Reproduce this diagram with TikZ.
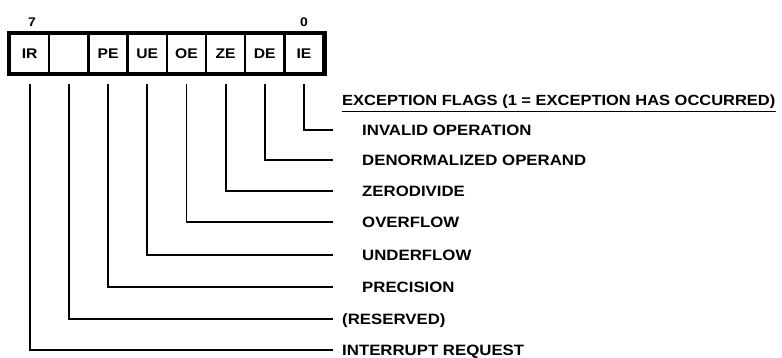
\documentclass[tikz,border=0pt]{standalone}
\usepackage{fontspec}
\setmainfont{Liberation Sans}
\newfontfamily\labfont[FakeStretch=1.12]{Liberation Sans}
\begin{document}
\begin{tikzpicture}[x={(1pt,0)},y={(0,-1pt)},
  cell/.style={draw,line width=2.4pt,minimum width=39.2pt,minimum height=39pt,inner sep=0pt,
    font=\labfont\fontsize{14}{15}\selectfont\bfseries},
  bitnum/.style={font=\labfont\fontsize{12.5}{14}\selectfont\bfseries,inner sep=0pt},
  lbl/.style={anchor=base west,inner sep=0pt,font=\labfont\fontsize{15}{18}\selectfont\bfseries},
  conn/.style={line width=1.8pt}]
\useasboundingbox[fill=white] (0,0) rectangle (782,358);
% register cells
\foreach \n/\t [count=\i from 0] in {IR/IR,RS/{},PE/PE,UE/UE,OE/OE,ZE/ZE,DE/DE,IE/IE}{
  \node[cell] (c\n) at ({10+39.2*(\i+0.5)},53.5) {\t};
}
\draw[line width=4pt] (cIR.north west) rectangle (cIE.south east);
\node[bitnum] (b7) at (32,22) {7};
\node[bitnum] (b0) at (304,22) {0};
% heading
\node[lbl,font=\labfont\fontsize{14.7}{18}\selectfont\bfseries] (head) at (342,106) {EXCEPTION FLAGS (1 = EXCEPTION HAS OCCURRED)};
\draw[line width=1.2pt] ([yshift=-5.5pt]head.base west) -- ([yshift=-5.5pt]head.base east);
% labels and connectors
\foreach \n/\y/\x/\t in {IE/130/362/INVALID OPERATION,
                        DE/160/362/DENORMALIZED OPERAND,
                        ZE/191/362/ZERODIVIDE,
                        OE/222/362/OVERFLOW,
                        UE/255/362/UNDERFLOW,
                        PE/287/362/PRECISION,
                        RS/319/342/(RESERVED),
                        IR/350/342/INTERRUPT REQUEST}{
  \node[lbl] (l\n) at (\x,\y+5.2) {\t};
  \coordinate (e\n) at (333,\y);
  \draw[conn] ([yshift=-10pt]c\n.south) |- (e\n);
}
\end{tikzpicture}
\end{document}
